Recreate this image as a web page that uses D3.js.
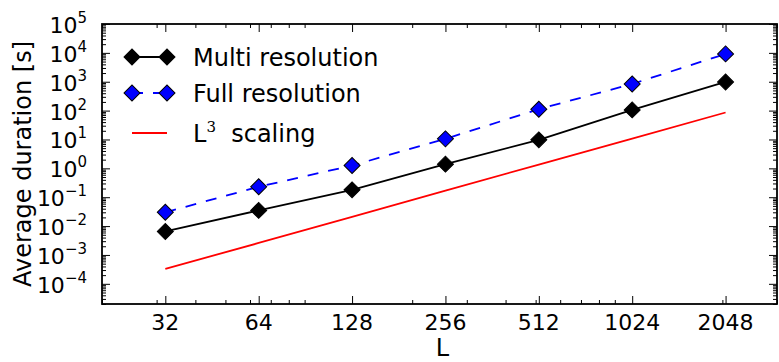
<!DOCTYPE html>
<html>
<head>
<meta charset="utf-8">
<script src="https://cdn.jsdelivr.net/npm/d3@7"></script>
<style>
  body { margin: 0; background: #fff; }
  svg { display: block; font-family: "DejaVu Sans", sans-serif; }
  .axis path.domain { display: none; }
  .axis line { stroke: #000; stroke-width: 1; }
</style>
</head>
<body>
<svg id="chart" width="779" height="362"></svg>
<script>
// system sizes L and measured average durations [s]
var sizes = [32, 64, 128, 256, 512, 1024, 2048];
var multiRes = [0.0065, 0.035, 0.18, 1.4, 9.7, 106, 985];
var fullRes = [0.030, 0.23, 1.25, 10.5, 112, 840, 9200];
var cubeScaling = [3.3e-4, 2.6e-3, 2.1e-2, 0.17, 1.35, 10.8, 86];

var yTickExps = [-4, -3, -2, -1, 0, 1, 2, 3, 4, 5];
var legendNames = ["Multi resolution", "Full resolution", "L"];

//constants
var PLOT = {left: 102, top: 24, right: 777, bottom: 304};
var MAJOR_TICK = 8, MINOR_TICK = 4;

var svg = d3.select("#chart");

var x = d3.scaleLog().base(2).domain([20, 3000]).range([PLOT.left, PLOT.right]);
var y = d3.scaleLog().base(10).domain([2e-5, 1e5]).range([PLOT.bottom, PLOT.top]);

// minor ticks at 2..9 x 10^n, same as the base-10 log locator
function minorTicks(domain) {
    var out = [];
    for (var n = -6; n <= 6; n++) {
        for (var k = 2; k <= 9; k++) {
            var v = k * Math.pow(10, n);
            if (v >= domain[0] * 0.999 && v <= domain[1] * 1.001) out.push(v);
        }
    }
    return out;
}
var xMinor = minorTicks(x.domain());
var yMinor = minorTicks(y.domain());
var yMajor = yTickExps.map(function(e){ return Math.pow(10, e); });

// ticks on all four sides, pointing inwards
function addTicks(axisFn, scale, values, size, transform) {
    svg.append("g")
        .attr("class", "axis")
        .attr("transform", transform)
        .call(axisFn(scale).tickValues(values).tickSize(-size).tickFormat(""));
}
addTicks(d3.axisBottom, x, sizes, MAJOR_TICK, "translate(0," + PLOT.bottom + ")");
addTicks(d3.axisBottom, x, xMinor, MINOR_TICK, "translate(0," + PLOT.bottom + ")");
addTicks(d3.axisTop, x, sizes, MAJOR_TICK, "translate(0," + PLOT.top + ")");
addTicks(d3.axisTop, x, xMinor, MINOR_TICK, "translate(0," + PLOT.top + ")");
addTicks(d3.axisLeft, y, yMajor, MAJOR_TICK, "translate(" + PLOT.left + ",0)");
addTicks(d3.axisLeft, y, yMinor, MINOR_TICK, "translate(" + PLOT.left + ",0)");
addTicks(d3.axisRight, y, yMajor, MAJOR_TICK, "translate(" + PLOT.right + ",0)");
addTicks(d3.axisRight, y, yMinor, MINOR_TICK, "translate(" + PLOT.right + ",0)");

// frame
svg.append("rect")
    .attr("x", PLOT.left).attr("y", PLOT.top)
    .attr("width", PLOT.right - PLOT.left).attr("height", PLOT.bottom - PLOT.top)
    .attr("fill", "none").attr("stroke", "#000").attr("stroke-width", 1.8);

// x tick labels
svg.selectAll(".xlab")
    .data(sizes)
  .enter().append("text")
    .attr("class", "xlab")
    .attr("x", function(d){ return x(d); })
    .attr("y", 330)
    .attr("text-anchor", "middle")
    .attr("font-size", 22)
    .text(function(d){ return d; });

// y tick labels 10^e
var ylab = svg.selectAll(".ylab")
    .data(yTickExps)
  .enter().append("text")
    .attr("class", "ylab")
    .attr("x", 87)
    .attr("y", function(d){ return y(Math.pow(10, d)) + 9; })
    .attr("text-anchor", "end")
    .attr("font-size", 22);
ylab.append("tspan").text("10");
ylab.append("tspan")
    .attr("font-size", 15)
    .attr("dy", -10)
    .text(function(d){ return d < 0 ? "\u2212" + (-d) : d; });

// axis labels
svg.append("text")
    .attr("x", (PLOT.left + PLOT.right) / 2 + 3)
    .attr("y", 356)
    .attr("text-anchor", "middle")
    .attr("font-size", 24)
    .text("L");

svg.append("text")
    .attr("transform", "translate(31," + (PLOT.top + PLOT.bottom) / 2 + ") rotate(-90)")
    .attr("text-anchor", "middle")
    .attr("font-size", 24)
    .text("Average duration [s]");

// series
var line = d3.line()
    .x(function(d){ return x(d[0]); })
    .y(function(d){ return y(d[1]); });

var diamond = d3.symbol().type(d3.symbolSquare).size(128);

function zipSeries(vals) {
    return sizes.map(function(s, i){ return [s, vals[i]]; });
}

svg.append("path")
    .datum(zipSeries(cubeScaling))
    .attr("d", line)
    .attr("fill", "none").attr("stroke", "#ff0000").attr("stroke-width", 1.8);

svg.append("path")
    .datum(zipSeries(fullRes))
    .attr("d", line)
    .attr("fill", "none").attr("stroke", "#0000ff").attr("stroke-width", 1.8)
    .attr("stroke-dasharray", "11,10");

svg.append("path")
    .datum(zipSeries(multiRes))
    .attr("d", line)
    .attr("fill", "none").attr("stroke", "#000").attr("stroke-width", 1.8);

function markers(vals, fill) {
    svg.selectAll(null)
        .data(zipSeries(vals))
      .enter().append("path")
        .attr("d", diamond)
        .attr("transform", function(d){ return "translate(" + x(d[0]) + "," + y(d[1]) + ") rotate(45)"; })
        .attr("fill", fill)
        .attr("stroke", "#000")
        .attr("stroke-width", 1);
}
markers(fullRes, "#0000ff");
markers(multiRes, "#000");

// legend
var LEG_X0 = 132, LEG_X1 = 167, LEG_TEXT_X = 193;
var legRows = [
    {y: 57, stroke: "#000", dash: null, fill: "#000"},
    {y: 93, stroke: "#0000ff", dash: "11,10", fill: "#0000ff"},
    {y: 133, stroke: "#ff0000", dash: null, fill: null}
];

var leg = svg.append("g");
legRows.forEach(function(r, i) {
    leg.append("line")
        .attr("x1", LEG_X0).attr("x2", LEG_X1)
        .attr("y1", r.y).attr("y2", r.y)
        .attr("stroke", r.stroke).attr("stroke-width", 1.8)
        .attr("stroke-dasharray", r.dash);
    if (r.fill) {
        [LEG_X0, LEG_X1].forEach(function(px) {
            leg.append("path")
                .attr("d", diamond)
                .attr("transform", "translate(" + px + "," + r.y + ") rotate(45)")
                .attr("fill", r.fill).attr("stroke", "#000").attr("stroke-width", 1);
        });
    }
    var t = leg.append("text")
        .attr("x", LEG_TEXT_X)
        .attr("y", r.y + 8.5)
        .attr("font-size", 24)
        .style("white-space", "pre")
        .text(legendNames[i]);
    if (i == 2) {
        t.append("tspan")
            .attr("font-family", "DejaVu Serif")
            .attr("font-size", 15)
            .attr("dy", -10)
            .text("3");
        t.append("tspan")
            .attr("dy", 10)
            .text("  scaling");
    }
});
</script>
</body>
</html>
